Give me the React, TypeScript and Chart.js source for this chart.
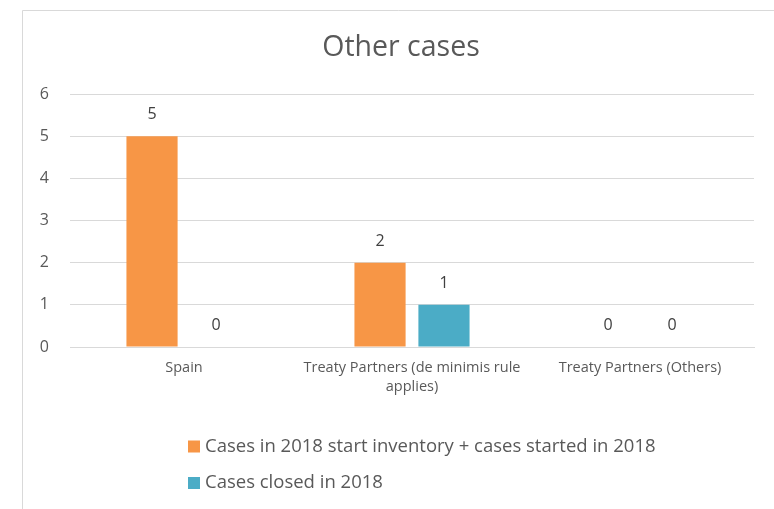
import { useEffect, useRef } from "react";
import { Chart, registerables } from "chart.js";

Chart.register(...registerables);

const categories: string[][] = [
  ["Spain"],
  ["Treaty Partners (de minimis rule", "applies)"],
  ["Treaty Partners (Others)"],
];
const seriesNames = [
  "Cases in 2018 start inventory + cases started in 2018",
  "Cases closed in 2018",
];
const startedValues = [5, 2, 0];
const closedValues = [0, 1, 0];
const seriesColors = ["#F79646", "#4BACC6"];
const yMin = 0;
const yMax = 6;
const yStep = 1;
const chartTitle = "Other cases";

const FONT = "'Open Sans', sans-serif";
const TEXT = "#595959";
const GRID = "#d9d9d9";

const framePlugin = {
  id: "frame",
  beforeDraw(chart: any) {
    const ctx = chart.ctx;
    ctx.save();
    ctx.fillStyle = "#ffffff";
    ctx.fillRect(0, 0, chart.width, chart.height);
    ctx.strokeStyle = GRID;
    ctx.lineWidth = 1;
    ctx.beginPath();
    ctx.moveTo(22.5, chart.height + 2);
    ctx.lineTo(22.5, 10.5);
    ctx.lineTo(chart.width + 2, 10.5);
    ctx.stroke();
    ctx.restore();
  },
  afterDraw(chart: any) {
    const ctx = chart.ctx;
    ctx.save();
    ctx.font = `28.5px ${FONT}`;
    ctx.fillStyle = TEXT;
    ctx.textAlign = "center";
    ctx.textBaseline = "middle";
    ctx.fillText(chartTitle, 401, 47.5);
    ctx.restore();
  },
};

const valueLabelPlugin = {
  id: "valueLabels",
  afterDatasetsDraw(chart: any) {
    const ctx = chart.ctx;
    ctx.save();
    ctx.font = `16px ${FONT}`;
    ctx.fillStyle = "#404040";
    ctx.textAlign = "center";
    ctx.textBaseline = "middle";
    chart.data.datasets.forEach((ds: any, i: number) => {
      const meta = chart.getDatasetMeta(i);
      meta.data.forEach((el: any, j: number) => {
        ctx.fillText(String(ds.data[j]), el.x, el.y - 21.5);
      });
    });
    ctx.restore();
  },
};

const customLegendPlugin = {
  id: "customLegend",
  afterDraw(chart: any) {
    const ctx = chart.ctx;
    const area = chart.chartArea;
    ctx.save();
    ctx.font = `18.5px ${FONT}`;
    ctx.textAlign = "left";
    ctx.textBaseline = "middle";
    chart.data.datasets.forEach((ds: any, i: number) => {
      const cy = area.bottom + 99.5 + i * 36.5;
      const x = 188;
      ctx.fillStyle = ds.backgroundColor;
      ctx.fillRect(x, cy - 6, 12, 12);
      ctx.fillStyle = TEXT;
      ctx.fillText(ds.label, x + 17, cy);
    });
    ctx.restore();
  },
};

export default function App() {
  const canvasRef = useRef<HTMLCanvasElement | null>(null);

  useEffect(() => {
    document.body.style.margin = "0";
    const canvas = canvasRef.current;
    if (!canvas) return;
    const chart = new Chart(canvas, {
      type: "bar",
      data: {
        labels: categories,
        datasets: [
          {
            label: seriesNames[0],
            data: startedValues,
            backgroundColor: seriesColors[0],
            categoryPercentage: 0.561,
            barPercentage: 0.8,
          },
          {
            label: seriesNames[1],
            data: closedValues,
            backgroundColor: seriesColors[1],
            categoryPercentage: 0.561,
            barPercentage: 0.8,
          },
        ],
      },
      options: {
        animation: false,
        responsive: true,
        maintainAspectRatio: false,
        devicePixelRatio: 1,
        layout: { padding: { top: 94, left: 32, right: 20, bottom: 100 } },
        font: { family: FONT },
        plugins: {
          legend: { display: false },
          tooltip: { enabled: false },
          title: { display: false },
        },
        scales: {
          x: {
            grid: { display: false, drawTicks: false },
            border: { display: true, color: GRID, width: 1 },
            ticks: {
              color: TEXT,
              font: { family: FONT, size: 14.5, lineHeight: 1.31 },
              padding: 11.5,
              maxRotation: 0,
              autoSkip: false,
            },
            afterFit(scale: any) {
              scale.height = 62;
            },
          },
          y: {
            min: yMin,
            max: yMax,
            grid: { color: GRID, drawTicks: false, lineWidth: 1 },
            border: { display: false },
            ticks: {
              stepSize: yStep,
              color: TEXT,
              font: { family: FONT, size: 16 },
              padding: 21,
            },
            afterFit(scale: any) {
              scale.width = 38;
            },
          },
        },
      } as any,
      plugins: [framePlugin, valueLabelPlugin, customLegendPlugin],
    });
    return () => chart.destroy();
  }, []);

  return (
    <div style={{ position: "absolute", left: 0, top: 0, width: 774, height: 509 }}>
      <canvas ref={canvasRef} width={774} height={509} />
    </div>
  );
}
